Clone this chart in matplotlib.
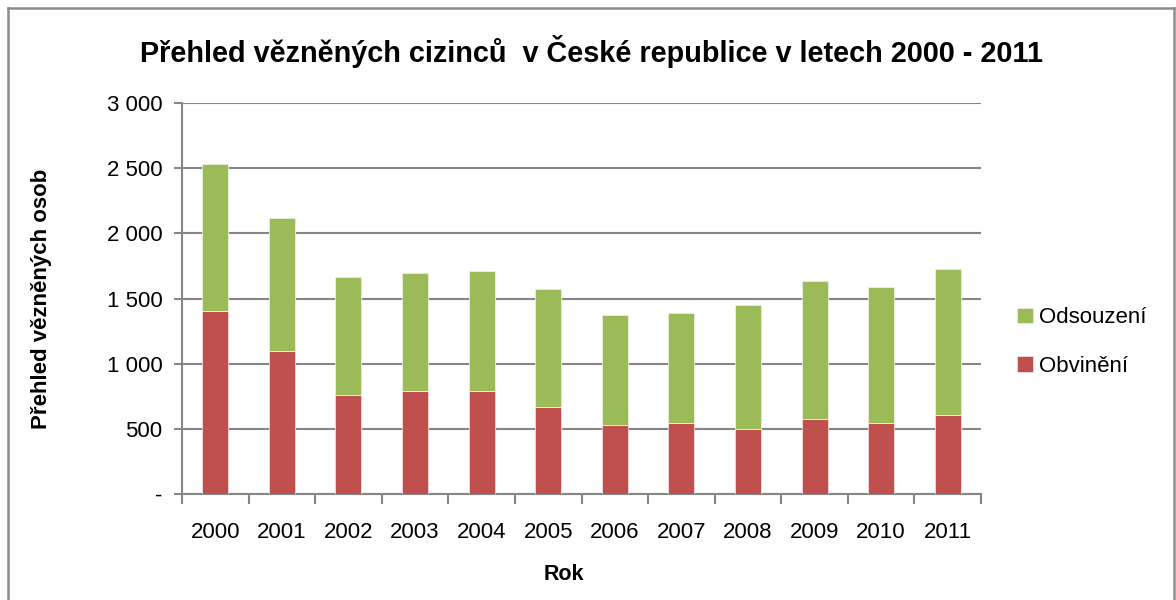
import matplotlib
matplotlib.use("Agg")
import matplotlib.pyplot as plt
import numpy as np

years = ["2000", "2001", "2002", "2003", "2004", "2005", "2006", "2007", "2008", "2009", "2010", "2011"]
obvineni = [1405, 1096, 759, 790, 790, 665, 527, 544, 496, 573, 544, 603]
odsouzeni = [1125, 1018, 907, 907, 922, 909, 845, 846, 955, 1063, 1046, 1125]
yticks = [0, 500, 1000, 1500, 2000, 2500, 3000]
yticklabels = ["-", "500", "1 000", "1 500", "2 000", "2 500", "3 000"]

RED = "#C0504D"
GREEN = "#9BBB59"
GRID = "#868686"
FONT = ["Liberation Sans", "DejaVu Sans"]

plt.rcParams["font.family"] = FONT

fig = plt.figure(figsize=(11.76, 6.0), dpi=100)
fig.patch.set_facecolor("white")

# outer chart border (top, left, right)
fig.add_artist(plt.Line2D([8/1176, 8/1176], [0, 1 - 8/600], transform=fig.transFigure, color="#8c8c8c", lw=1.8))
fig.add_artist(plt.Line2D([8/1176, 1174/1176], [1 - 8/600, 1 - 8/600], transform=fig.transFigure, color="#8c8c8c", lw=1.8))
fig.add_artist(plt.Line2D([1174/1176, 1174/1176], [0, 1 - 8/600], transform=fig.transFigure, color="#8c8c8c", lw=1.8))

ax = fig.add_axes([182/1176, 1 - 494/600, (981 - 182)/1176, (494 - 103)/600])
x = np.arange(len(years))
w = 0.39
b1 = ax.bar(x, obvineni, w, color=RED, edgecolor="#f2dcdb", linewidth=0.6, label="Obvinění", zorder=3)
b2 = ax.bar(x, odsouzeni, w, bottom=obvineni, color=GREEN, edgecolor="#ebf1de", linewidth=0.6, label="Odsouzení", zorder=3)

ax.set_xlim(-0.5, len(years) - 0.5)
ax.set_ylim(0, 3000)
ax.set_yticks(yticks)
ax.set_yticklabels(yticklabels)
ax.yaxis.grid(True, color=GRID, lw=1.5, zorder=0)
ax.set_axisbelow(True)

ax.set_xticks(x)
ax.set_xticklabels(years)
ax.set_xticks(np.arange(-0.5, len(years)), minor=True)
ax.tick_params(axis="x", which="major", length=0, pad=20, labelsize=16)
ax.tick_params(axis="x", which="minor", length=7, width=1.5, color=GRID, direction="out")
ax.tick_params(axis="y", length=6, width=1.5, color=GRID, pad=8, labelsize=16)

for s in ["top", "right"]:
    ax.spines[s].set_visible(False)
for s in ["left", "bottom"]:
    ax.spines[s].set_color(GRID)
    ax.spines[s].set_linewidth(1.5)

fig.text(591/1176, 1 - 51/600, "Přehled vězněných cizinců  v České republice v letech 2000 - 2011",
         ha="center", va="center", fontsize=20.8, fontweight="bold")
fig.text(564/1176, 1 - 575/600, "Rok", ha="center", va="center", fontsize=15.5, fontweight="bold")
fig.text(42/1176, 1 - 299/600, "Přehled vězněných osob", ha="center", va="center", rotation=90,
         fontsize=16, fontweight="bold")

handles = [b2, b1]
leg = fig.legend(handles, ["Odsouzení", "Obvinění"], loc="center left",
                 bbox_to_anchor=(1017/1176, 1 - 342/600), frameon=False, fontsize=16,
                 handlelength=0.7, handleheight=0.7, handletextpad=0.3, labelspacing=1.25,
                 borderaxespad=0, borderpad=0)

fig.savefig("out.png", dpi=100, facecolor="white")
